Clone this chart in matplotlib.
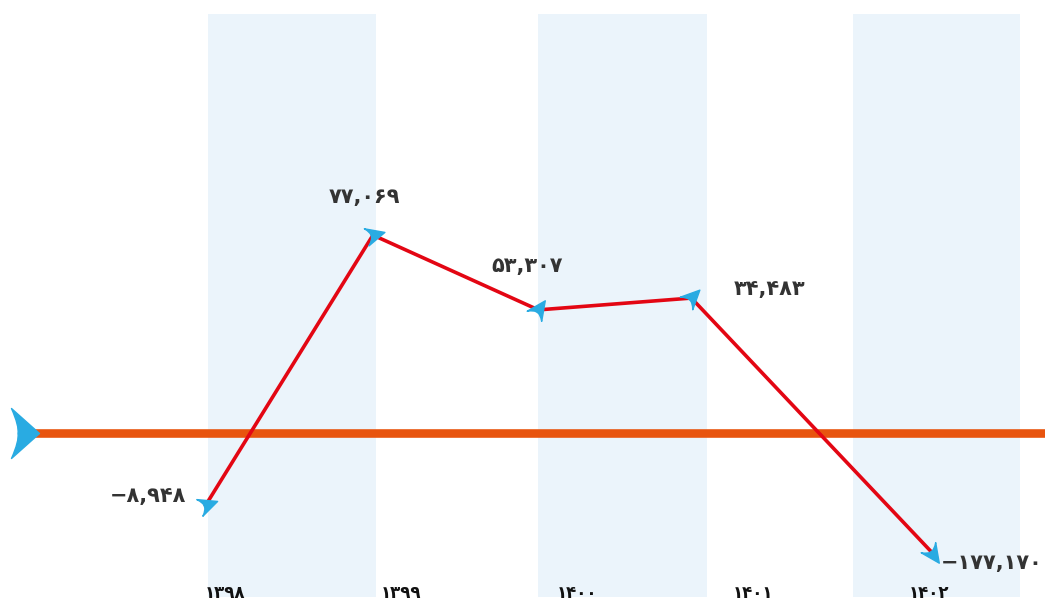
import matplotlib
matplotlib.use("Agg")
import matplotlib.pyplot as plt
from matplotlib.path import Path
from matplotlib.markers import MarkerStyle
from matplotlib.transforms import Affine2D, blended_transform_factory

# ========== DATA ==========
years = [1398, 1399, 1400, 1401, 1402]
year_labels = ["۱۳۹۸", "۱۳۹۹", "۱۴۰۰", "۱۴۰۱", "۱۴۰۲"]
value_labels = ["−۸,۹۴۸", "۷۷,۰۶۹", "۵۳,۳۰۷", "۳۴,۴۸۳", "−۱۷۷,۱۷۰"]
# where each point sits in the picture (year axis / drawing level, not to scale)
point_year = [1397.89, 1398.84, 1399.78, 1400.65, 1402.02]
point_level = [-28.0, 77.0, 47.9, 52.5, -46.7]

# ========== STYLE ==========
BLUE = "#29ABE2"
RED = "#E30613"
ORANGE = "#E8540E"
BAND = "#EBF4FB"
TEXT = "#333333"
plt.rcParams['font.family'] = ['DejaVu Sans']


def arrow_marker(angle, w=0.6, h=0.75, notch=-0.2, tip=1.0):
    # arrow head with a concave back, pointing to +x
    verts = [(tip, 0.0), (-w, -h), (notch + 0.05, -0.3), (notch, 0.0),
             (notch, 0.0), (notch + 0.05, 0.3), (-w, h), (tip, 0.0)]
    codes = [Path.MOVETO, Path.LINETO, Path.CURVE3, Path.CURVE3,
             Path.LINETO, Path.CURVE3, Path.CURVE3, Path.CLOSEPOLY]
    return MarkerStyle(Path(verts, codes), transform=Affine2D().rotate_deg(angle))


fig = plt.figure(figsize=(10.45, 6.1), dpi=100)
ax = fig.add_axes([0, 0, 1, 1])
ax.set_xlim(1396.72, 1402.66)
ax.set_ylim(-68.9, 168.5)
ax.axis("off")

# bands
for x0, x1 in [(1397.90, 1398.86), (1399.78, 1400.74), (1401.57, 1402.52)]:
    ax.axvspan(x0, x1, ymin=0.021, ymax=0.977, color=BAND, lw=0, zorder=0)

# zero line with big arrow
ax.axhline(0, xmin=0.025, xmax=1, color=ORANGE, lw=6.2, zorder=2)
ax.plot([0.024], [0], marker=arrow_marker(0, w=0.56, h=1.0, notch=-0.3, tip=0.56),
        markersize=36, color=BLUE,
        transform=blended_transform_factory(ax.transAxes, ax.transData),
        zorder=3, clip_on=False)

# series
ax.plot(point_year, point_level, color=RED, lw=2.6, zorder=4, solid_joinstyle="miter")
angles = [20, 15, 55, 45, -55]
for xv, yv, a in zip(point_year, point_level, angles):
    ax.plot([xv], [yv], marker=arrow_marker(a), markersize=17, color=BLUE, zorder=5)

# value labels
offsets = [(-58, 9), (-9, 38), (-11, 44), (78, 9), (110, -10)]
aligns = ["center", "center", "center", "center", "right"]
for xv, yv, lab, off, ha in zip(point_year, point_level, value_labels, offsets, aligns):
    ax.annotate(lab, (xv, yv), xytext=off, textcoords="offset pixels",
                ha=ha, va="center", fontsize=15, fontweight="bold", color=TEXT)

# year labels
trans = blended_transform_factory(ax.transData, ax.transAxes)
for yr, lab in zip(years, year_labels):
    ax.text(yr, 1 - 593 / 610, lab, transform=trans, ha="center", va="center",
            fontsize=12, fontweight="bold", color="#111111")

fig.savefig("out.png", dpi=100)
